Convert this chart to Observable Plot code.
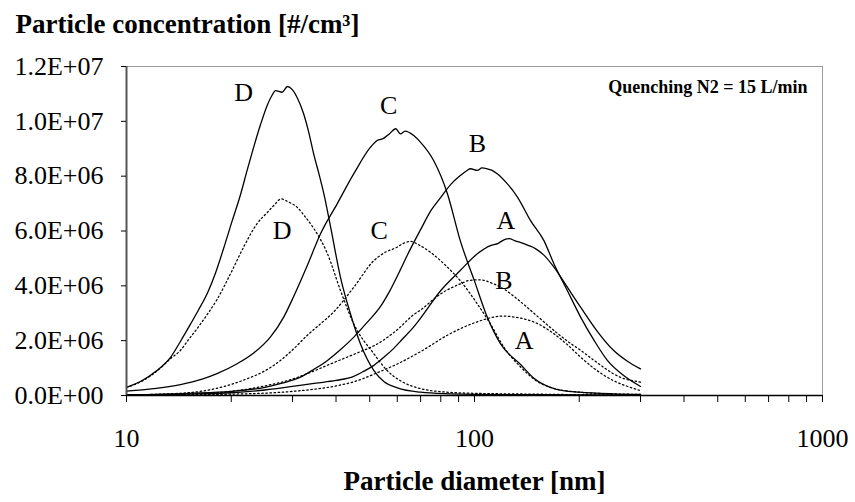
<!DOCTYPE html>
<html>
<head>
<meta charset="utf-8">
<script src="https://cdn.jsdelivr.net/npm/d3@7"></script>
<script src="https://cdn.jsdelivr.net/npm/@observablehq/plot@0.6"></script>
<style>
  html, body { margin: 0; padding: 0; background: #fff; }
</style>
</head>
<body>
<div id="chart"></div>
<script>
// Values: [particle diameter (nm), concentration (millions #/cm3)]
const solidD = [[10,0.30],[11,0.52],[12.2,0.90],[13.4,1.40],[14.3,1.98],[15.3,2.62],[16.1,3.12],[17.1,3.75],[18.0,4.45],[19.0,5.35],[20.1,6.35],[21.3,7.36],[22.2,8.2],[23.2,9.06],[24.3,9.9],[25.4,10.6],[26.2,10.95],[26.8,11.12],[28.0,11.06],[29.0,11.27],[30.0,11.15],[30.9,10.88],[32.3,10.27],[33.4,9.6],[34.5,8.81],[35.7,8.1],[36.9,7.36],[38.6,6.14],[41.2,4.31],[44.0,2.98],[47.0,1.89],[51.4,0.91],[55,0.5],[60,0.28],[70,0.12],[85,0.06],[100,0.04],[150,0.03],[200,0.02],[300,0.01]];
const dottedD = [[10,0.30],[11,0.5],[12.2,0.88],[13.4,1.35],[14.3,1.65],[15.0,2.0],[16.3,2.6],[17.2,3.02],[18.2,3.5],[19.9,4.44],[21.7,5.41],[23.7,6.26],[25.4,6.68],[26.6,6.95],[27.8,7.17],[29.3,7.05],[30.9,6.87],[32.7,6.5],[34.5,6.1],[37.8,5.17],[41.2,3.83],[45.0,2.61],[51.4,1.52],[56.1,0.91],[62,0.5],[70,0.25],[80,0.14],[100,0.08],[150,0.05],[200,0.03],[300,0.02]];
const solidC = [[10,0.16],[12,0.25],[14.3,0.4],[16.5,0.6],[18.2,0.8],[20.8,1.16],[23.2,1.55],[25.9,2.13],[28.3,2.86],[30.2,3.6],[33.1,4.75],[36.1,5.90],[40.3,6.99],[45.0,8.09],[50.2,9.05],[52.5,9.3],[54.8,9.38],[57,9.55],[59.4,9.73],[61.3,9.54],[63.2,9.64],[66.9,9.48],[69.9,9.24],[76.3,8.57],[83.6,7.36],[91.0,5.65],[99.9,4.19],[108.8,2.86],[118.7,1.89],[135.9,1.12],[148.8,0.61],[165,0.3],[180,0.18],[200,0.12],[250,0.06],[300,0.04]];
const dottedC = [[10,0.02],[15,0.1],[18,0.25],[22.2,0.61],[25,0.9],[27.7,1.28],[30.5,1.75],[33.1,2.2],[36,2.6],[39.4,3.05],[45.0,3.95],[51.4,4.92],[55,5.2],[59.9,5.41],[62.5,5.55],[65.5,5.62],[69,5.5],[74.6,5.23],[83.6,4.68],[91,4.19],[101.9,3.34],[111.1,2.61],[121.5,1.76],[135.9,1.03],[150,0.55],[170,0.25],[200,0.12],[250,0.06],[300,0.04]];
const solidB = [[10,0.02],[15,0.08],[20,0.15],[25,0.3],[28,0.45],[31.6,0.67],[34.5,0.95],[37.8,1.28],[41,1.65],[45,2.13],[49,2.65],[53.7,3.25],[57,3.8],[61.3,4.6],[64,5.1],[70,6.05],[75,6.75],[80,7.23],[85.5,7.7],[91,8.02],[95,8.2],[97.4,8.27],[101.9,8.21],[105,8.3],[108.8,8.27],[112,8.22],[116.2,8.09],[124.3,7.72],[133,7.23],[144.9,6.38],[158.3,5.65],[169.2,4.80],[184.8,3.83],[201.8,2.86],[220.6,2.01],[240.9,1.28],[268.9,0.72],[300,0.33]];
const dottedB = [[10,0.01],[15,0.05],[20,0.15],[25,0.35],[30,0.6],[33.1,0.8],[39.4,1.2],[45,1.5],[53.7,1.95],[60,2.4],[66.9,2.95],[70,3.12],[80,3.71],[91,4.07],[97,4.2],[104,4.22],[112,4.1],[121,3.9],[130.3,3.6],[148.8,2.98],[169.2,2.37],[185,1.98],[201.8,1.65],[220.6,1.28],[262,0.67],[300,0.49]];
const solidA = [[10,0.02],[15,0.05],[20,0.1],[25,0.2],[30,0.33],[35,0.45],[40,0.55],[45,0.7],[48,0.88],[51.4,1.1],[55,1.4],[58.6,1.72],[62,2.05],[66.9,2.5],[70,2.82],[80,3.83],[91,4.56],[101.9,5.17],[111.1,5.47],[117,5.55],[121.5,5.68],[126,5.72],[130.3,5.65],[136,5.58],[143.1,5.47],[150,5.35],[158.3,5.12],[169.2,4.68],[184.8,3.95],[201.8,3.22],[224.5,2.37],[251.2,1.64],[275,1.25],[300,0.97]];
const dottedA = [[10,0.01],[20,0.05],[30,0.15],[40,0.35],[45,0.5],[53.7,0.88],[60,1.15],[70,1.6],[83.6,2.2],[99.9,2.65],[113.7,2.86],[121,2.9],[130.3,2.86],[148.8,2.67],[169.2,2.25],[185,1.85],[201.8,1.4],[220,1.0],[250,0.55],[280,0.3],[300,0.18]];

// Curve labels
const labelText = ["D", "C", "B", "A", "D", "C", "B", "A"];
const labelX = [21.7, 56.7, 101.9, 123, 28.0, 53.2, 121.5, 138.8];
const labelY = [11.06, 10.58, 9.18, 6.38, 6.02, 6.02, 4.19, 1.99];

// Axis ticks
const yTicks = [0, 2e6, 4e6, 6e6, 8e6, 10e6, 12e6];
const xMinorTicks = [10,20,30,40,50,60,70,80,90,100,200,300,400,500,600,700,800,900,1000];
const xTickLabels = [10, 100, 1000];

const yTitle = "Particle concentration [#/cm³]";
const xTitle = "Particle diameter [nm]";
const note = "Quenching N2 = 15 L/min";

const series = [
  {name: "D", style: "solid", pts: solidD},
  {name: "D", style: "dotted", pts: dottedD},
  {name: "C", style: "solid", pts: solidC},
  {name: "C", style: "dotted", pts: dottedC},
  {name: "B", style: "solid", pts: solidB},
  {name: "B", style: "dotted", pts: dottedB},
  {name: "A", style: "solid", pts: solidA},
  {name: "A", style: "dotted", pts: dottedA}
];
const rows = series.flatMap(s => s.pts.map(([d, v]) => ({key: s.name + s.style, style: s.style, d, v: v * 1e6})));
const labels = labelText.map((t, i) => ({t, x: labelX[i], y: labelY[i] * 1e6}));

function fmtE(v) {
  const [m, e] = v.toExponential(1).split("e");
  const sign = e[0] === "-" ? "-" : "+";
  const digits = e.replace(/^[+-]/, "").padStart(2, "0");
  return m + "E" + sign + digits;
}

const serif = "'Liberation Serif', 'Times New Roman', serif";

const chart = Plot.plot({
  width: 855,
  height: 502,
  marginTop: 66,
  marginLeft: 126,
  marginRight: 33,
  marginBottom: 107,
  style: {fontFamily: serif, fontSize: "26px", background: "#fff", color: "#000"},
  x: {type: "log", domain: [10, 1000]},
  y: {domain: [0, 12e6]},
  marks: [
    Plot.frame({stroke: "#9a9a9a", strokeWidth: 1}),
    Plot.line(rows.filter(r => r.style === "solid"), {x: "d", y: "v", z: "key", stroke: "#000", strokeWidth: 1.3, curve: "monotone-x"}),
    Plot.line(rows.filter(r => r.style === "dotted"), {x: "d", y: "v", z: "key", stroke: "#000", strokeWidth: 1.25, strokeDasharray: "1.5,2.6", curve: "monotone-x"}),
    Plot.text(labels, {x: "x", y: "y", text: "t", fontSize: 26, fill: "#000", textAnchor: "middle", lineAnchor: "middle"}),
    Plot.ruleX([10], {stroke: "#555", strokeWidth: 2}),
    Plot.ruleY([0], {stroke: "#000", strokeWidth: 1.5}),
    Plot.axisY({ticks: yTicks, tickFormat: fmtE, tickSize: 5, tickPadding: 18, label: null, fontSize: 26, stroke: "#000"}),
    Plot.axisX({ticks: xMinorTicks, tickFormat: () => "", tickSize: 7, label: null}),
    Plot.axisX({ticks: xTickLabels, tickFormat: d => String(d), tickSize: 7, tickPadding: 26, label: null, fontSize: 26}),
    Plot.text([yTitle], {frameAnchor: "top-left", dx: -111, dy: -42, textAnchor: "start", lineAnchor: "middle", fontWeight: "bold", fontSize: 27, fill: "#000"}),
    Plot.text([xTitle], {frameAnchor: "bottom", dy: 86, textAnchor: "middle", lineAnchor: "middle", fontWeight: "bold", fontSize: 27, fill: "#000"}),
    Plot.text([note], {frameAnchor: "top-right", dx: -15, dy: 21, textAnchor: "end", lineAnchor: "middle", fontWeight: "bold", fontSize: 18, fill: "#000"})
  ]
});
document.getElementById("chart").appendChild(chart);
</script>
</body>
</html>
